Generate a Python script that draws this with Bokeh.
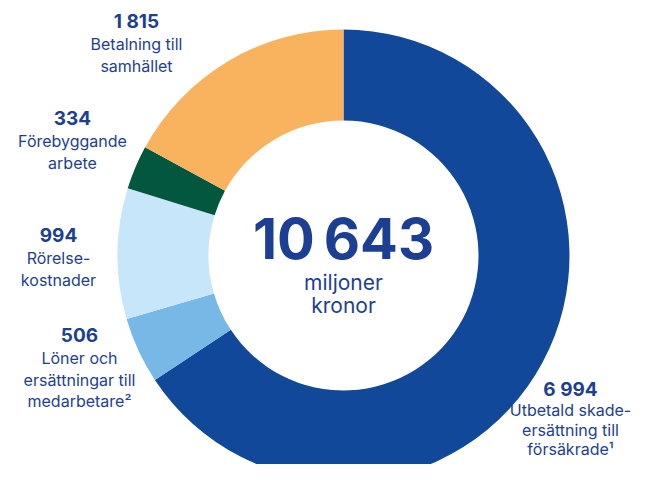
import math
from bokeh.plotting import figure
from bokeh.models import Range1d, ColumnDataSource
from bokeh.core.properties import value
from bokeh.embed import file_html
from bokeh.resources import INLINE

# ---- data ----
categories = ["Utbetald skadeersättning till försäkrade",
              "Löner och ersättningar till medarbetare",
              "Rörelsekostnader",
              "Förebyggande arbete",
              "Betalning till samhället"]
values = [6994, 506, 994, 334, 1815]
label_lines = [["Utbetald skade-", "ersättning till", "försäkrade\u00b9"],
               ["Löner och", "ersättningar till", "medarbetare\u00b2"],
               ["Rörelse-", "kostnader"],
               ["Förebyggande", "arbete"],
               ["Betalning till", "samhället"]]
colors = ["#12489a", "#78b8e6", "#c8e6fa", "#03573f", "#f9b25e"]
total_label = "10\u2009643"
center_lines = ["miljoner", "kronor"]

# ---- layout (page pixel coordinates) ----
W, H = 632, 464
PAGE_H = 480
def Y(py, size):
    # baseline correction for Bokeh's text placement
    return PAGE_H - (py - 0.37 * size)

cx, cy = 343, 255
r_in, r_out = 135, 226
label_anchor = [(570, 396), (79, 342), (58, 242), (72, 125), (136, 28)]
line_step = [19.6, 21.5, 21.5, 21.5, 21.5]
TEXT = "#1d3f93"
FONT = "Inter"
NUM_SIZE, LAB_SIZE, BIG_SIZE, SUB_SIZE = 19, 16, 56, 21

def fmt(v):
    return f"{v:,}".replace(",", " ")

p = figure(width=W, height=H, output_backend="svg", toolbar_location=None,
           x_range=Range1d(0, W), y_range=Range1d(PAGE_H - H, PAGE_H),
           min_border=0)
p.axis.visible = False
p.grid.visible = False
p.outline_line_color = None
p.background_fill_color = "white"

total = sum(values)
starts, ends = [], []
cum = 0
for v in values:
    starts.append(math.pi / 2 - 2 * math.pi * cum / total)
    cum += v
    ends.append(math.pi / 2 - 2 * math.pi * cum / total)

src = ColumnDataSource(dict(cat=categories, val=values, start=starts, end=ends, color=colors,
                            x=[cx] * len(values), y=[PAGE_H - cy] * len(values)))
p.annular_wedge(x="x", y="y", inner_radius=r_in, outer_radius=r_out,
                start_angle="start", end_angle="end", direction="clock",
                fill_color="color", line_color=None, source=src)

# value labels and category text
nx, ny, nt = [], [], []
lx, ly, lt = [], [], []
for v, lines, (ax, ay), st in zip(values, label_lines, label_anchor, line_step):
    nx.append(ax); ny.append(Y(ay, NUM_SIZE)); nt.append(fmt(v))
    for i, ln in enumerate(lines):
        lx.append(ax); ly.append(Y(ay + st * (i + 1), LAB_SIZE)); lt.append(ln)

p.text(x=nx, y=ny, text=nt, text_font=value(FONT), text_font_style="bold",
       text_font_size=f"{NUM_SIZE}px", text_color=TEXT, text_align="center",
       text_baseline="alphabetic")
p.text(x=lx, y=ly, text=lt, text_font=value(FONT), text_font_size=f"{LAB_SIZE}px",
       text_color=TEXT, text_align="center", text_baseline="alphabetic")

# center
p.text(x=[cx], y=[Y(259, BIG_SIZE)], text=[total_label], text_font=value(FONT),
       text_font_style="bold", text_font_size=f"{BIG_SIZE}px", text_color=TEXT,
       text_align="center", text_baseline="alphabetic")
p.text(x=[cx, cx], y=[Y(290, SUB_SIZE), Y(313, SUB_SIZE)], text=center_lines,
       text_font=value(FONT), text_font_size=f"{SUB_SIZE}px", text_color=TEXT,
       text_align="center", text_baseline="alphabetic")

open("out.html", "w").write(file_html(p, INLINE))
